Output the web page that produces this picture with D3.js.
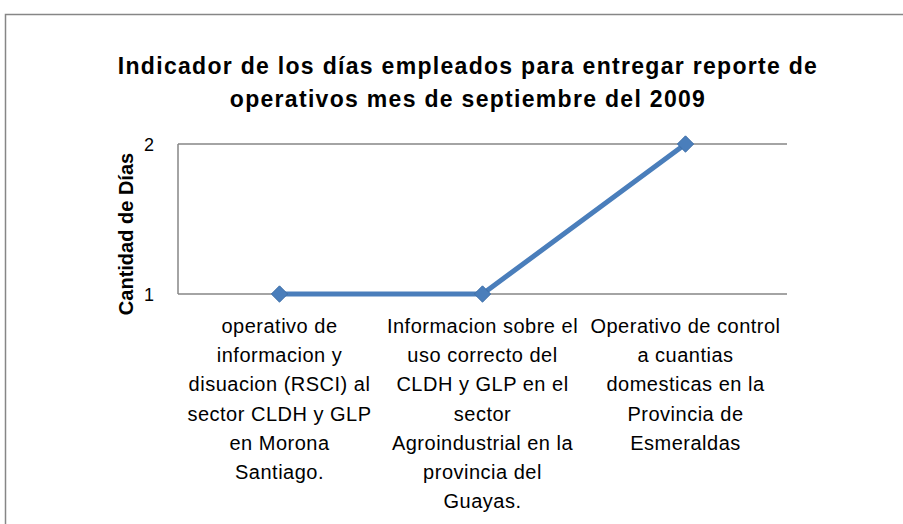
<!DOCTYPE html>
<html><head><meta charset="utf-8">
<script src="https://cdn.jsdelivr.net/npm/d3@7"></script>
<style>body{margin:0;background:#fff}svg{display:block}text{font-family:"Liberation Sans",Arial,sans-serif}</style>
</head><body>
<svg id="c" width="903" height="524"></svg>
<script>
const categories = [
  ["operativo de","informacion y","disuacion (RSCI) al","sector CLDH y GLP","en Morona","Santiago."],
  ["Informacion sobre el","uso correcto del","CLDH y GLP en el","sector","Agroindustrial en la","provincia del","Guayas."],
  ["Operativo de control","a cuantias","domesticas en la","Provincia de","Esmeraldas"]
];
const values = [1, 1, 2];
const yTicks = [1, 2];
const titleLines = ["Indicador de los días empleados para entregar reporte de","operativos mes de septiembre del 2009"];
const yTitle = "Cantidad de Días";

(function(){
const svg = d3.select("#c");
svg.append("rect").attr("x",5.5).attr("y",14.5).attr("width",920).attr("height",540)
  .attr("fill","#fff").attr("stroke","#868686").attr("stroke-width",1.5);

const pL=178, pR=787, pT=144, pB=294;
const x = d3.scaleBand().domain(d3.range(categories.length)).range([pL,pR]);
const y = d3.scaleLinear().domain([1,2]).range([pB,pT]);

svg.append("g").selectAll("line").data(yTicks).join("line")
  .attr("x1",pL).attr("x2",pR).attr("y1",d=>y(d)).attr("y2",d=>y(d))
  .attr("stroke","#868686").attr("stroke-width",1.5);
svg.append("line").attr("x1",pL).attr("x2",pL).attr("y1",pT).attr("y2",pB)
  .attr("stroke","#868686").attr("stroke-width",1.5);
svg.append("g").selectAll("text").data(yTicks).join("text")
  .attr("x",pL-29).attr("y",d=>y(d)+7).attr("text-anchor","middle")
  .attr("font-size",18).attr("fill","#000").text(d=>d);
svg.append("text").attr("transform",`translate(133,234) rotate(-90)`)
  .attr("text-anchor","middle").attr("font-weight","bold").attr("font-size",20).text(yTitle);
svg.append("g").selectAll("text").data(titleLines).join("text")
  .attr("x",468).attr("y",(d,i)=>74+i*33).attr("text-anchor","middle")
  .attr("font-weight","bold").attr("font-size",23).attr("letter-spacing",1.3).text(d=>d);
const cx = i => x(i)+x.bandwidth()/2;
categories.forEach((lines,i)=>{
  svg.append("g").selectAll("text").data(lines).join("text")
    .attr("x",cx(i)).attr("y",(d,j)=>333+j*29.2).attr("text-anchor","middle")
    .attr("font-size",20).attr("letter-spacing",0.5).text(d=>d);
});
const line = d3.line().x((d,i)=>cx(i)).y(d=>y(d));
svg.append("path").datum(values).attr("d",line).attr("fill","none")
  .attr("stroke","#4A7EBB").attr("stroke-width",5).attr("stroke-linejoin","round");
svg.append("g").selectAll("path").data(values).join("path")
  .attr("transform",(d,i)=>`translate(${cx(i)},${y(d)})`)
  .attr("d",d3.symbol().type(d3.symbolDiamond2).size(170))
  .attr("fill","#4A7EBB").attr("stroke","#3F6FA8").attr("stroke-width",1);
})();
</script>
</body></html>
